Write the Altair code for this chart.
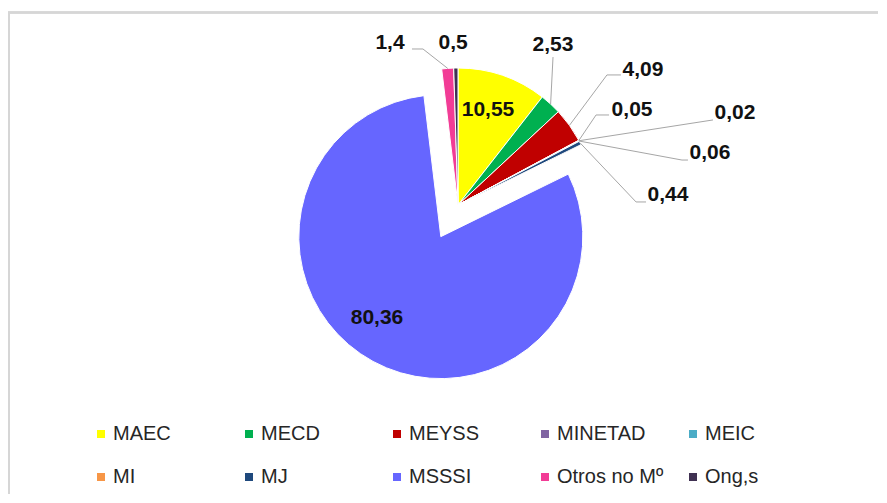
import math
import altair as alt
import pandas as pd

# ---- data ----
CATEGORIES = ["MAEC", "MECD", "MEYSS", "MINETAD", "MEIC", "MI", "MJ", "MSSSI", "Otros no Mº", "Ong,s"]
VALUES = [10.55, 2.53, 4.09, 0.05, 0.02, 0.06, 0.44, 80.36, 1.4, 0.5]
COLORS = ["#FFFF00", "#00B050", "#C00000", "#8064A2", "#4BACC6",
          "#F79646", "#1F497D", "#6666FF", "#F23C96", "#403152"]

# ---- label layout (offsets relative to each slice's outer mid point) ----
LABEL_DX = [-14.6, 2.4, 73.5, 53.2, 156.0, 130.8, 87.9, 4.0, -57.7, -2.8]
LABEL_DY = [34.5, -59.0, -55.4, -30.5, -27.8, 12.0, 52.0, -43.4, -25.4, -25.0]
ATTACH_DX = [0, 0, -22, -23, -22, -22, -22, 0, 22, 0]
ATTACH_DY = [0, 12, 5, 5, 7, 7, 7, 0, 6, 0]
ELBOW_DX = [0, 0, -14, -13, 0, -6, -10, 0, 11, 0]
HAS_LEADER = [False, True, True, True, True, True, True, False, True, False]

# ---- pie geometry ----
CX, CY = 450, 197
R = 137
R_EXPL = 142
EXPLODE = 36
EXPLODED = "MSSSI"

df = pd.DataFrame({
    "category": CATEGORIES,
    "value": VALUES,
    "order": list(range(len(CATEGORIES))),
    "label": [str(v).replace(".", ",") for v in VALUES],
    "ldx": LABEL_DX, "ldy": LABEL_DY,
    "atx": ATTACH_DX, "aty": ATTACH_DY,
    "elb": ELBOW_DX, "leader": HAS_LEADER,
})

base = (
    alt.Chart(df)
    .transform_window(cum="sum(value)", sort=[alt.SortField("order")], frame=[None, 0])
    .transform_joinaggregate(total="sum(value)")
    .transform_calculate(
        t0="(datum.cum - datum.value) / datum.total * 100",
        t1="datum.cum / datum.total * 100",
        mid="(datum.cum - datum.value / 2) / datum.total * 2 * PI",
    )
    .transform_calculate(
        ex=f"datum.category == '{EXPLODED}' ? {EXPLODE} : 0",
        rad=f"datum.category == '{EXPLODED}' ? {R_EXPL} : {R}",
    )
    .transform_calculate(
        cx=f"{CX} + datum.ex * sin(datum.mid)",
        cy=f"{CY} - datum.ex * cos(datum.mid)",
    )
    .transform_calculate(
        ax="datum.cx + datum.rad * sin(datum.mid)",
        ay="datum.cy - datum.rad * cos(datum.mid)",
    )
    .transform_calculate(
        lx="datum.ax + datum.ldx",
        ly="datum.ay + datum.ldy",
    )
    .transform_calculate(
        px2="datum.lx + datum.atx",
        py2="datum.ly + datum.aty",
    )
    .transform_calculate(
        px1="datum.px2 + datum.elb",
        py1="datum.py2",
    )
)

arcs = base.mark_arc(stroke="white", strokeWidth=1).encode(
    x=alt.X("cx:Q", scale=None, axis=None),
    y=alt.Y("cy:Q", scale=None, axis=None),
    theta=alt.Theta("t0:Q", scale=alt.Scale(domain=[0, 100], range=[0, 2 * math.pi])),
    theta2="t1:Q",
    radius=alt.Radius("rad:Q", scale=None),
    color=alt.Color(
        "category:N",
        scale=alt.Scale(domain=CATEGORIES, range=COLORS),
        sort=CATEGORIES,
        legend=alt.Legend(
            title=None,
            orient="none",
            legendX=83,
            legendY=416,
            columns=5,
            direction="horizontal",
            symbolType="square",
            symbolSize=64,
            symbolStrokeWidth=0,
            labelFont="Liberation Sans",
            labelFontSize=20,
            labelColor="#262626",
            labelOffset=2,
            columnPadding=19,
            rowPadding=23,
            gridAlign="all",
            padding=0,
            labelLimit=300,
        ),
    ),
)

leader_a = base.transform_filter("datum.leader").mark_rule(color="#a6a6a6", strokeWidth=1).encode(
    x=alt.X("ax:Q", scale=None, axis=None),
    y=alt.Y("ay:Q", scale=None, axis=None),
    x2="px1:Q",
    y2="py1:Q",
)
leader_b = base.transform_filter("datum.leader").mark_rule(color="#a6a6a6", strokeWidth=1).encode(
    x=alt.X("px1:Q", scale=None, axis=None),
    y=alt.Y("py1:Q", scale=None, axis=None),
    x2="px2:Q",
    y2="py2:Q",
)

labels = base.mark_text(
    font="Liberation Sans", fontWeight="bold", fontSize=21, color="#111111",
    align="center", baseline="middle",
).encode(
    x=alt.X("lx:Q", scale=None, axis=None),
    y=alt.Y("ly:Q", scale=None, axis=None),
    text="label:N",
)

border_top = alt.Chart(df).mark_rule(color="#d6d6d6", strokeWidth=1.5).encode(
    x=alt.value(0), x2=alt.value(870), y=alt.value(4.5)
)
border_left = alt.Chart(df).mark_rule(color="#d6d6d6", strokeWidth=1.5).encode(
    x=alt.value(0.75), y=alt.value(4), y2=alt.value(486)
)

chart = (
    alt.layer(border_top, border_left, arcs, leader_a, leader_b, labels)
    .properties(width=870, height=486, autosize="none", padding=0, background="white")
    .configure_view(stroke=None)
)

chart.save("out.html", embed_options={"renderer": "svg", "actions": False})
